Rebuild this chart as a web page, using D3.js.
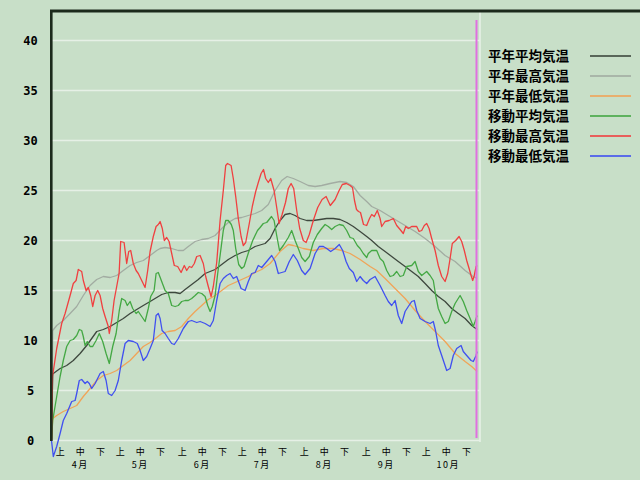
<!DOCTYPE html>
<html><head><meta charset="utf-8">
<script src="https://cdn.jsdelivr.net/npm/d3@7/dist/d3.min.js"></script>
<style>
html,body{margin:0;padding:0;background:#c8dfc8;}
svg{display:block;}
</style></head><body>
<svg id="c" width="640" height="480"></svg>
<script>
// ---- data (day index from Apr 1, value in °C) ----
const seriesNames = ["平年平均気温","平年最高気温","平年最低気温","移動平均気温","移動最高気温","移動最低気温"];
const yTicks = [0,5,10,15,20,25,30,35,40];
const months = ["4月","5月","6月","7月","8月","9月","10月"];
const monthStartDay = [0,30,61,91,122,153,183];
const dekadLabels = ["上","中","下"];
const lastDay = 213;

const normMean = [[0,0],[0.6,6.6],[0.9,6.7],[4.3,7.2],[7.6,7.5],[10.9,8.0],[14.3,8.7],[17.6,9.5],[20.1,10.2],[22.6,10.9],[25.9,11.1],[29.3,11.4],[32.6,11.8],[35.9,12.2],[39.3,12.7],[42.6,13.1],[45.9,13.5],[49.3,13.9],[52.6,14.3],[55.1,14.6],[58.4,14.8],[61.8,14.8],[64.3,14.7],[66.8,15.1],[70.1,15.6],[73.4,16.1],[76.8,16.7],[79.3,16.9],[81.8,17.1],[85.1,17.6],[88.4,18.1],[91.8,18.5],[95.1,18.8],[98.4,19.0],[101.8,19.4],[105.1,19.6],[106.8,19.7],[109.3,20.2],[111.8,21.2],[114.3,22.0],[116.8,22.6],[119.3,22.7],[121.8,22.5],[124.3,22.2],[127.6,22.0],[130.9,22.0],[134.3,22.1],[137.6,22.2],[140.9,22.2],[144.3,22.1],[147.6,21.8],[150.9,21.4],[154.3,20.9],[157.6,20.4],[160.1,20.0],[163.4,19.4],[166.8,18.9],[170.1,18.4],[173.4,17.9],[176.8,17.4],[180.1,16.9],[183.4,16.4],[186.8,15.7],[190.1,15.0],[193.4,14.4],[196.8,13.9],[200.1,13.2],[203.4,12.7],[206.8,12.2],[210.1,11.5],[212.8,11.1]];

const normMax = [[0,0],[0.6,11.0],[2.6,11.5],[5.9,12.0],[9.3,12.7],[12.6,13.4],[15.9,14.5],[19.3,15.5],[22.6,16.1],[25.9,16.4],[29.3,16.3],[32.6,16.5],[35.9,17.0],[39.3,17.5],[42.6,17.8],[45.9,18.0],[49.3,18.5],[52.6,19.0],[54.3,19.2],[56.8,19.3],[60.1,19.2],[63.4,19.0],[65.9,19.0],[68.4,19.4],[71.8,19.9],[75.1,20.1],[78.4,20.2],[81.8,20.5],[85.1,21.2],[88.4,21.8],[91.8,22.2],[95.1,22.3],[98.4,22.5],[101.8,22.7],[105.1,23.0],[108.4,23.6],[111.8,25.0],[115.1,26.0],[117.8,26.4],[120.9,26.2],[124.3,25.9],[128.4,25.5],[131.8,25.4],[135.1,25.5],[139.3,25.7],[144.3,25.9],[147.6,25.8],[150.9,25.4],[154.3,24.5],[157.6,23.9],[160.1,23.4],[164.3,23.0],[168.4,22.5],[172.6,22.0],[176.8,21.5],[181.8,20.9],[186.8,20.2],[191.8,19.4],[196.8,18.5],[201.8,17.9],[206.8,17.0],[210.1,16.5],[212.8,16.2]];

const normMin = [[0,0],[0.6,2.2],[2.6,2.5],[5.9,2.9],[9.3,3.2],[12.6,3.5],[15.9,4.4],[19.3,5.2],[22.6,6.0],[25.9,6.5],[29.3,6.7],[32.6,7.0],[35.9,7.5],[39.3,8.0],[42.6,8.7],[45.9,9.4],[49.3,9.8],[52.6,10.3],[55.1,10.7],[58.4,10.9],[61.8,11.0],[65.1,11.4],[68.4,12.2],[71.8,12.9],[75.1,13.5],[78.4,14.1],[81.8,14.5],[85.1,15.0],[88.4,15.5],[91.8,15.8],[95.1,16.1],[98.4,16.4],[101.8,16.8],[105.1,17.1],[109.3,17.7],[114.3,18.9],[118.4,19.6],[120.9,19.5],[125.9,19.2],[130.9,19.0],[135.9,19.2],[140.9,19.2],[145.1,19.0],[149.3,18.7],[154.3,18.1],[159.3,17.4],[162.6,17.0],[166.8,16.2],[171.8,15.2],[176.8,14.2],[181.8,13.0],[186.8,11.9],[191.8,10.9],[196.8,9.9],[201.8,8.7],[206.8,7.9],[210.1,7.4],[212.8,6.9]];

const movMean = [[0,0],[0.6,2.0],[2.6,4.4],[4.3,6.4],[5.9,8.0],[7.6,9.4],[9.3,10.0],[10.9,10.1],[12.6,10.5],[13.9,11.1],[15.1,11.0],[15.9,10.4],[16.8,9.5],[17.9,9.9],[19.3,9.4],[20.6,9.4],[22.3,10.0],[23.9,10.7],[25.6,9.9],[27.3,8.7],[28.9,7.7],[30.6,9.4],[32.3,10.7],[33.9,13.0],[35.1,14.2],[36.8,14.0],[37.9,13.5],[39.3,13.9],[40.6,13.2],[42.3,12.7],[43.4,12.9],[45.1,12.4],[46.8,11.9],[48.4,13.2],[49.6,14.4],[51.3,15.0],[52.3,16.7],[53.4,16.8],[55.1,15.9],[56.8,15.0],[58.4,14.7],[60.1,13.5],[61.8,13.4],[63.4,13.5],[65.1,13.9],[66.8,14.0],[68.4,14.0],[70.1,14.2],[71.8,14.5],[73.4,14.8],[75.1,14.7],[76.8,14.4],[78.1,13.5],[79.3,12.9],[80.4,13.4],[81.8,14.5],[83.1,16.7],[84.3,18.5],[85.9,21.0],[87.1,22.0],[88.4,22.0],[89.9,21.6],[90.9,21.0],[92.1,19.2],[93.6,17.6],[95.1,17.2],[96.3,17.4],[98.5,18.8],[100.6,20.0],[103,21.0],[104.3,21.3],[105.9,21.7],[107.6,21.8],[110,22.4],[111.3,22.0],[112.6,20.5],[114,19.0],[115.9,19.5],[118.4,20.3],[120.1,21.0],[121.8,20.0],[123.4,19.2],[125.1,18.3],[126.8,17.9],[128.9,18.4],[130.9,19.8],[132.9,20.6],[135.1,21.2],[136.8,21.6],[138.4,21.4],[140.1,21.1],[141.8,21.4],[143.9,21.6],[145.9,21.5],[147.6,21.0],[149.3,20.3],[150.9,20.2],[152.9,19.5],[154.3,19.2],[155.9,18.7],[157.6,18.3],[158.4,18.7],[160.1,19.0],[162.6,19.0],[164.3,18.2],[165.9,17.9],[167.6,17.0],[169.3,16.4],[170.9,16.5],[172.6,16.9],[174.3,16.4],[175.9,16.5],[177.6,17.4],[180.1,17.5],[181.8,17.9],[183.4,16.9],[185.1,16.5],[187.6,16.9],[189.3,16.5],[190.9,16.0],[192.1,14.5],[193.4,13.2],[195.1,12.4],[196.8,11.7],[198.4,11.9],[200.1,12.9],[201.8,13.7],[204.3,14.5],[205.9,13.9],[207.6,13.0],[209.3,12.2],[210.9,11.4],[211.8,11.9],[212.8,12.5]];

const movMax = [[0,0],[0.5,6.4],[2.6,9.2],[5.1,11.7],[6.8,12.7],[9.3,14.5],[10.9,15.7],[12.3,16.0],[13.4,17.1],[15.1,16.9],[15.9,16.0],[17.3,15.0],[18.4,15.3],[19.6,14.5],[20.6,13.4],[21.8,14.5],[23.1,15.0],[24.3,14.5],[25.6,13.2],[26.8,12.4],[28.4,11.4],[28.9,10.7],[30.1,12.0],[31.3,14.0],[32.6,15.4],[33.8,16.7],[34.6,19.9],[36.3,19.8],[37.6,17.7],[38.6,18.9],[39.6,19.0],[40.9,17.7],[42.3,17.0],[43.4,16.7],[45.1,16.0],[46.8,15.3],[48.1,17.0],[49.3,18.9],[50.9,20.4],[52.3,21.4],[53.4,21.6],[54.3,21.9],[55.4,21.2],[56.4,20.0],[57.6,20.3],[58.8,19.9],[60.1,18.7],[61.4,17.5],[63.1,17.4],[64.8,16.8],[66.4,17.5],[67.6,17.0],[68.9,17.4],[70.1,17.3],[71.4,17.7],[72.6,18.4],[74.3,18.5],[75.9,17.7],[77.1,16.4],[78.4,15.4],[79.8,14.4],[80.9,15.4],[82.6,17.8],[84.3,22.0],[85.9,25.0],[87.1,27.5],[88,27.7],[89.8,27.5],[90.9,26.2],[92.1,24.4],[93.4,22.2],[94.8,20.4],[95.9,19.5],[97.1,19.8],[98.8,21.6],[100.4,23.4],[102.1,24.9],[103.4,25.8],[104.8,26.7],[106,27.1],[107.1,26.2],[108.4,25.8],[109.6,26.2],[111.3,25.0],[112.6,23.3],[113.8,21.7],[115.3,22.6],[117,23.8],[118.4,25.2],[119.8,25.7],[121.1,25.2],[122.6,23.0],[124.1,21.2],[125.9,20.0],[127.3,19.8],[128.9,20.6],[130.9,22.0],[133.1,23.3],[135.3,24.1],[137.3,24.4],[139.4,23.5],[141.8,24.1],[143.8,25.0],[145.4,25.6],[147.4,25.7],[149.3,25.5],[150.5,25.3],[151.5,24.0],[152.5,23.1],[153.5,22.9],[154.5,22.8],[156,21.6],[157.6,21.5],[159,22.2],[160.1,22.6],[161.4,22.4],[162.9,23.0],[164.3,22.2],[165.1,21.4],[166.8,21.9],[168.8,22.0],[170.9,22.2],[172.6,21.5],[174.3,21.1],[175.9,20.7],[177.1,21.4],[178.4,21.2],[180.1,21.4],[182.6,21.4],[183.8,20.9],[185.1,21.0],[186.4,21.5],[187.6,21.7],[188.8,21.2],[190.1,20.2],[191.8,19.0],[193.4,17.5],[195.1,16.4],[196.8,15.9],[198.1,16.7],[199.3,18.2],[200.4,19.7],[202.1,20.0],[203.8,20.4],[205.1,19.9],[206.4,19.0],[207.6,18.0],[208.8,17.2],[209.8,16.5],[210.6,16.0],[211.4,16.5],[212.3,17.4],[212.8,17.5]];

const movMin = [[0,0],[0.9,-1.6],[2.6,-0.6],[4.3,0.7],[5.9,2.0],[7.6,2.7],[10.1,3.9],[11.8,4.0],[12.6,4.7],[13.9,6.0],[15.1,6.1],[16.8,5.7],[17.9,5.9],[18.9,5.7],[20.1,5.2],[21.8,5.7],[24.3,6.7],[25.9,6.9],[27.3,6.0],[28.4,4.7],[30.1,4.5],[31.8,5.0],[33.4,6.0],[35.1,8.0],[36.8,9.7],[38.4,10.0],[40.9,9.9],[42.9,9.7],[44.3,9.0],[45.9,8.0],[47.6,8.4],[49.3,9.2],[50.9,10.0],[52.3,12.5],[53.4,12.7],[54.3,12.2],[55.3,11.0],[56.8,10.7],[58.4,10.2],[60.1,9.7],[61.4,9.6],[63.4,10.2],[65.9,11.2],[68.4,11.9],[70.1,12.0],[72.6,11.8],[74.3,11.9],[76.8,11.7],[79.3,11.4],[80.9,12.0],[82.6,14.0],[84.3,15.7],[85.9,16.2],[87.6,16.5],[89.3,16.7],[90.9,16.2],[92.6,16.4],[94.8,15.2],[96.8,15.0],[98.4,15.9],[100.1,16.7],[101.8,16.8],[103.4,17.5],[105.1,17.3],[107.6,17.9],[110.1,18.5],[111.8,17.9],[113.4,16.7],[115.1,16.8],[116.8,16.9],[118.9,17.9],[120.9,18.6],[122.9,18.0],[125.1,17.0],[126.8,16.6],[129.3,17.2],[131.8,18.7],[133.9,19.4],[135.9,19.4],[137.6,19.2],[139.6,18.9],[141.8,19.2],[143.9,19.6],[145.6,19.0],[147.3,17.9],[148.9,17.2],[150.9,16.8],[152.6,15.9],[154.3,16.4],[155.9,16.0],[157.6,15.7],[159.3,16.1],[161.8,16.4],[164.3,15.5],[166.8,14.5],[168.4,13.9],[170.1,13.5],[171.8,14.0],[173.4,12.5],[175.1,11.7],[176.8,12.9],[178.4,13.4],[180.1,13.9],[181.4,14.0],[182.6,13.0],[184.3,12.2],[186.8,11.9],[189.3,11.7],[190.9,11.9],[192.1,10.9],[193.4,9.5],[195.1,8.5],[197.6,7.0],[199.3,7.2],[200.9,8.5],[202.6,9.2],[204.8,9.5],[205.9,8.9],[207.6,8.5],[209.8,8.0],[210.9,7.9],[212.3,8.5],[212.8,8.9]];

// ---- styles ----
const colors = ["#3e483e","#a2aca2","#f0a458","#44a844","#f04040","#4050f0"];
const seriesData = [normMean, normMax, normMin, movMean, movMax, movMin];

const svg = d3.select("#c");
const W = 640, H = 480;
svg.append("rect").attr("width",W).attr("height",H).attr("fill","#c8dfc8");

const x = d3.scaleLinear().domain([0, lastDay]).range([51.5, 477.5]);
const y = d3.scaleLinear().domain([0, 40]).range([440.5, 40.5]);
const plotRight = 480;

// gridlines
svg.append("g").selectAll("line").data(yTicks).join("line")
  .attr("x1", 51).attr("x2", plotRight)
  .attr("y1", d => y(d)).attr("y2", d => y(d))
  .attr("stroke", "#e6f0e6").attr("stroke-width", 1.6);
// right light border
svg.append("line").attr("x1",plotRight).attr("x2",plotRight).attr("y1",12).attr("y2",442)
  .attr("stroke","#e6f0e6").attr("stroke-width",1.6);

// y labels
svg.append("g").selectAll("text").data(yTicks).join("text")
  .attr("x", 30.5).attr("y", d => y(d)).attr("dy","0.36em")
  .attr("text-anchor","middle")
  .attr("font-family","'DejaVu Sans Mono', monospace").attr("font-weight","bold")
  .attr("font-size", 12).attr("fill","#000")
  .text(d => d);

// x labels
const dekadOffsets = [4.4, 14.4, 24.5];
const dekTicks = [];
monthStartDay.forEach((m,i) => dekadOffsets.forEach((o,j) => dekTicks.push({d: m+o, t: dekadLabels[j], mi: i})));
svg.append("g").selectAll("text").data(dekTicks).join("text")
  .attr("x", d => x(d.d)).attr("y", 451.5).attr("dy","0.35em")
  .attr("text-anchor","middle")
  .attr("font-family","'Noto Sans CJK JP', sans-serif").attr("font-size",9).attr("fill","#000")
  .text(d => d.t);
svg.append("g").selectAll("text").data(months).join("text")
  .attr("x", (d,i) => x(monthStartDay[i] + dekadOffsets[1]) + (d.length > 2 ? 2 : 0)).attr("y", 465).attr("dy","0.35em")
  .attr("text-anchor","middle").attr("letter-spacing", 1.5)
  .attr("font-family","'Noto Sans CJK JP', sans-serif").attr("font-size",9).attr("fill","#000")
  .text(d => d);

// lines
const line = d3.line().x(d => x(d[0])).y(d => y(d[1]));
svg.append("g").selectAll("path").data(seriesData).join("path")
  .attr("d", line).attr("fill","none")
  .attr("stroke", (d,i) => colors[i]).attr("stroke-width", 1.3)
  .attr("stroke-linejoin","round");

// magenta current-day marker
svg.append("line").attr("x1", x(lastDay)-1).attr("x2", x(lastDay)-1).attr("y1", 20).attr("y2", 438)
  .attr("stroke","#e070e0").attr("stroke-width",2);

// axes frame
svg.append("line").attr("x1",50).attr("x2",640).attr("y1",11).attr("y2",11)
  .attr("stroke","#1c2a1c").attr("stroke-width",3);
svg.append("line").attr("x1",51.3).attr("x2",51.3).attr("y1",10).attr("y2",441)
  .attr("stroke","#1c2a1c").attr("stroke-width",2.6);

// legend
const lg = svg.append("g").selectAll("g").data(seriesNames).join("g")
  .attr("transform", (d,i) => `translate(0,${56 + i*20})`);
lg.append("text").attr("x",488).attr("y",0).attr("dy","0.36em")
  .attr("font-family","'Noto Sans CJK JP', sans-serif").attr("font-weight","bold")
  .attr("font-size",13.5).attr("fill","#000").text(d => d);
lg.append("line").attr("x1",590).attr("x2",631).attr("y1",0).attr("y2",0)
  .attr("stroke",(d,i)=>colors[i]).attr("stroke-width",2).attr("opacity",0.8);
</script>
</body></html>
